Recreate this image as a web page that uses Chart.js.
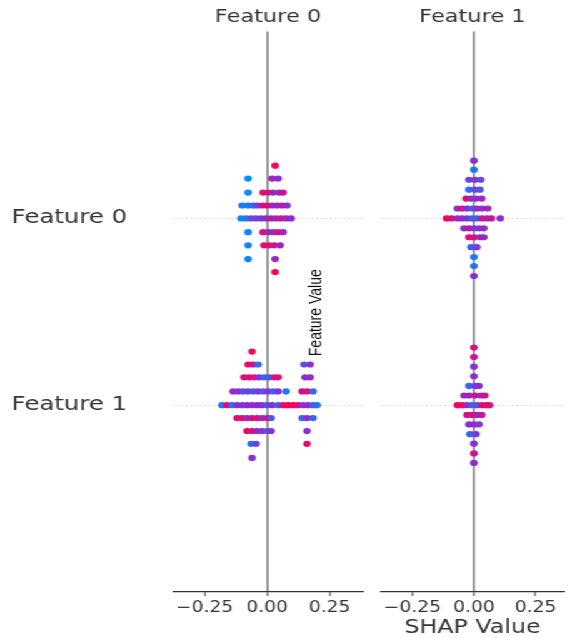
<!DOCTYPE html>
<html>
<head>
<meta charset="utf-8">
<script src="https://cdn.jsdelivr.net/npm/chart.js@4.4.0/dist/chart.umd.min.js"></script>
<style>
  body { margin: 0; background: #fff; overflow: hidden; }
  /* the reference raster is stretched sideways, so draw narrow and widen */
  #stretch { position: absolute; left: 0; top: 0; width: 455px; height: 638px;
             transform: scaleX(1.25); transform-origin: 0 0; }
  #leftChart { position: absolute; left: 0; top: 0; }
  #rightChart { position: absolute; left: 300px; top: 0; }
</style>
</head>
<body>
<div id="stretch">
  <canvas id="leftChart" width="300" height="638"></canvas>
  <canvas id="rightChart" width="155" height="638"></canvas>
</div>
<script>
// rows on the y axis (y = 0, 1) and the panel titles
const rowLabels = ['Feature 1', 'Feature 0'];
const panelTitles = ['Feature 0', 'Feature 1'];
const xTicks = [-0.25, 0, 0.25];
const xTickLabels = ['\u22120.25', '0.00', '0.25'];

// panel "Feature 0", row "Feature 0" (main effect)
const f0f0Shap = [0.032,
  -0.076, 0.020, 0.044,
  -0.076, -0.016, 0.004, 0.024, 0.048, 0.064,
  -0.100, -0.076, -0.056, -0.040, -0.020, 0, 0.020, 0.040, 0.060, 0.080,
  -0.104, -0.084, -0.064, -0.044, -0.024, -0.004, 0.016, 0.036, 0.056, 0.076, 0.096,
  -0.076, -0.016, 0.004, 0.024, 0.044, 0.064,
  -0.076, -0.012, 0.008, 0.028, 0.052,
  -0.076, 0.032,
  0.032];
const f0f0Jitter = [0.282,
  0.213, 0.213, 0.213,
  0.138, 0.138, 0.138, 0.138, 0.138, 0.138,
  0.069, 0.069, 0.069, 0.069, 0.069, 0.069, 0.069, 0.069, 0.069, 0.069,
  0, 0, 0, 0, 0, 0, 0, 0, 0, 0, 0,
  -0.074, -0.074, -0.074, -0.074, -0.074, -0.074,
  -0.144, -0.144, -0.144, -0.144, -0.144,
  -0.218, -0.218,
  -0.287];
const f0f0Value = [1,
  0, 0.6, 0.5,
  0, 0.9, 0.85, 0.6, 0.55, 0.8,
  0.05, 0.1, 0.15, 0.4, 0.8, 0.9, 0.6, 0.55, 0.7, 0.5,
  0.05, 0.1, 0.35, 0.4, 0.45, 0.5, 0.75, 0.6, 0.8, 0.55, 0.5,
  0.05, 0.85, 0.6, 0.55, 0.8, 0.6,
  0.05, 0.9, 0.85, 0.8, 0.6,
  0.05, 0.55,
  1];

// panel "Feature 0", row "Feature 1"
const f0f1Shap = [-0.060,
  -0.076, -0.056, -0.036, 0.148, 0.172,
  -0.092, -0.072, -0.052, -0.032, -0.012, 0.008, 0.028, 0.044, 0.152, 0.172,
  -0.136, -0.116, -0.096, -0.076, -0.056, -0.036, -0.016, 0.004, 0.024, 0.044, 0.076, 0.140, 0.160, 0.184,
  -0.180, -0.160, -0.140, -0.120, -0.100, -0.080, -0.060, -0.040, -0.020, 0, 0.020, 0.044, 0.064, 0.084, 0.104, 0.124, 0.144, 0.164, 0.184, 0.200,
  -0.120, -0.100, -0.080, -0.060, -0.040, -0.020, 0, 0.016, 0.140, 0.160, 0.184,
  -0.080, -0.060, -0.040, -0.020, 0, 0.016, 0.160,
  -0.064, -0.044, 0.160,
  -0.060];
const f0f1Jitter = [0.287,
  0.218, 0.218, 0.218, 0.218, 0.218,
  0.149, 0.149, 0.149, 0.149, 0.149, 0.149, 0.149, 0.149, 0.149, 0.149,
  0.074, 0.074, 0.074, 0.074, 0.074, 0.074, 0.074, 0.074, 0.074, 0.074, 0.074, 0.074, 0.074, 0.074,
  0, 0, 0, 0, 0, 0, 0, 0, 0, 0, 0, 0, 0, 0, 0, 0, 0, 0, 0, 0,
  -0.069, -0.069, -0.069, -0.069, -0.069, -0.069, -0.069, -0.069, -0.069, -0.069, -0.069,
  -0.138, -0.138, -0.138, -0.138, -0.138, -0.138, -0.138,
  -0.207, -0.207, -0.207,
  -0.282];
const f0f1Value = [0.95,
  0.9, 0.8, 0.2, 0.3, 0.5,
  0.8, 0.9, 0.85, 0.5, 0.2, 0.25, 0.8, 0.85, 0.5, 0.55,
  0.55, 0.5, 0.3, 0.4, 0.25, 0.45, 0.3, 0.5, 0.2, 0.5, 0.1, 0.8, 0.85, 0.2,
  0.1, 0.9, 0.15, 0.5, 0.45, 0.5, 0.55, 0.5, 0.5, 0.3, 0.5, 0.2, 0.9, 1, 0.95, 0.9, 0.5, 0.55, 0.2, 0.15,
  0.85, 0.9, 0.6, 0.8, 0.85, 0.6, 0.8, 0.3, 0.2, 0.5, 0.2,
  0.9, 0.85, 0.5, 0.55, 0.3, 0.5, 0.5,
  0.15, 0.4, 0.9,
  0.5];

// panel "Feature 1", row "Feature 0"
const f1f0Shap = [0,
  0,
  -0.020, 0.004, 0.028,
  -0.020, 0.004, 0.024,
  -0.032, -0.012, 0.008, 0.032,
  -0.067, -0.048, -0.028, -0.008, 0.012, 0.032, 0.056,
  -0.111, -0.091, -0.067, -0.048, -0.028, -0.008, 0.012, 0.032, 0.052, 0.071, 0.107,
  -0.040, -0.020, 0, 0.020, 0.040,
  -0.020, 0, 0.024, 0.040,
  -0.012, 0.012,
  0,
  0,
  0];
const f1f0Jitter = [0.309,
  0.261,
  0.207, 0.207, 0.207,
  0.154, 0.154, 0.154,
  0.106, 0.106, 0.106, 0.106,
  0.053, 0.053, 0.053, 0.053, 0.053, 0.053, 0.053,
  0, 0, 0, 0, 0, 0, 0, 0, 0, 0, 0,
  -0.053, -0.053, -0.053, -0.053, -0.053,
  -0.101, -0.101, -0.101, -0.101,
  -0.154, -0.154,
  -0.207,
  -0.255,
  -0.309];
const f1f0Value = [0.5,
  0.1,
  0.4, 0.5, 0.35,
  0.15, 0.4, 0.3,
  0.9, 0.55, 0.5, 0.6,
  0.55, 0.8, 0.5, 0.3, 0.5, 0.55, 0.6,
  0.95, 0.85, 0.6, 0.55, 0.45, 0.25, 0.2, 0.8, 0.65, 0.75, 0.5,
  0.5, 0.75, 0.5, 0.45, 0.55,
  0.85, 0.8, 0.6, 0.55,
  0.25, 0.45,
  0.1,
  0.15,
  0.5];

// panel "Feature 1", row "Feature 1" (main effect)
const f1f1Shap = [0,
  0,
  0,
  0,
  -0.020, 0.004, 0.020,
  -0.040, -0.020, 0.004, 0.028, 0.044,
  -0.067, -0.048, -0.028, -0.008, 0.012, 0.032, 0.052, 0.063,
  -0.028, -0.008, 0.012, 0.032,
  -0.020, 0, 0.020,
  -0.016, 0.008,
  0,
  0,
  0];
const f1f1Jitter = [0.309,
  0.258,
  0.206,
  0.155,
  0.103, 0.103, 0.103,
  0.052, 0.052, 0.052, 0.052, 0.052,
  0, 0, 0, 0, 0, 0, 0, 0,
  -0.052, -0.052, -0.052, -0.052,
  -0.103, -0.103, -0.103,
  -0.155, -0.155,
  -0.206,
  -0.258,
  -0.309];
const f1f1Value = [0.85,
  0.8,
  0.45,
  0.55,
  0.2, 0.45, 0.5,
  0.55, 0.6, 0.75, 0.55, 0.8,
  0.95, 0.9, 0.6, 0.25, 0.3, 0.85, 0.9, 0.85,
  0.8, 0.85, 0.6, 0.75,
  0.5, 0.55, 0.45,
  0.2, 0.45,
  0.5,
  0.8,
  0.5];

// shap red_blue colour map: blue (low) -> purple -> red (high)
const cmapStops = [[0, 139, 251], [138, 45, 215], [255, 0, 82]];
function featureColor(v) {
  const t = v * 2;
  const i = Math.min(Math.floor(t), 1);
  const f = t - i;
  const a = cmapStops[i], b = cmapStops[i + 1];
  const c = a.map((ch, k) => Math.round(ch + (b[k] - ch) * f));
  return 'rgb(' + c.join(',') + ')';
}

function makeDataset(shap, jitter, values, row) {
  return {
    data: shap.map((x, i) => ({ x: x, y: row + jitter[i] })),
    backgroundColor: values.map(featureColor),
    borderWidth: 0,
    pointRadius: 3.1
  };
}

const textColor = '#333333';
const font = 'DejaVu Sans';

// colour bar label that sits between the panels
const featureValueLabel = {
  id: 'featureValueLabel',
  afterDraw(chart) {
    const ctx = chart.ctx;
    const x = chart.scales.x.getPixelForValue(0.2);
    const y = chart.scales.y.getPixelForValue(0.495);
    ctx.save();
    ctx.translate(x, y);
    ctx.rotate(-Math.PI / 2);
    ctx.font = '14px "Liberation Sans"';
    ctx.fillStyle = '#111';
    ctx.textAlign = 'center';
    ctx.textBaseline = 'middle';
    ctx.fillText('Feature Value', 0, 0);
    ctx.restore();
  }
};

function makeConfig(panel, datasets, xMin, xMax, yWidth, padRight, showRowLabels, xTitle) {
  return {
    type: 'scatter',
    data: { datasets: datasets },
    plugins: panel === 0 ? [featureValueLabel] : [],
    options: {
      responsive: false,
      animation: false,
      events: [],
      layout: { padding: { left: 0, right: padRight, top: 0, bottom: 0 } },
      plugins: {
        legend: { display: false },
        tooltip: { enabled: false },
        title: {
          display: true,
          text: panelTitles[panel],
          fullSize: false,
          color: textColor,
          font: { family: font, size: 18, weight: 'normal', lineHeight: 1.2 },
          padding: { top: 7, bottom: 3 }
        }
      },
      scales: {
        x: {
          type: 'linear',
          min: xMin,
          max: xMax,
          afterBuildTicks: function(scale) {
            scale.ticks = xTicks.map(v => ({ value: v }));
          },
          afterFit: function(scale) {
            scale.height = 46;
            scale.paddingLeft = 0;
            scale.paddingRight = 0;
          },
          ticks: {
            color: textColor,
            font: { family: font, size: 15 },
            padding: 3,
            maxRotation: 0,
            callback: (value) => xTickLabels[xTicks.indexOf(value)]
          },
          grid: {
            color: (ctx) => (ctx.tick && ctx.tick.value === 0) ? '#999999' : 'rgba(0,0,0,0)',
            lineWidth: 2,
            drawTicks: true,
            tickLength: 4,
            tickColor: textColor,
            tickWidth: 1
          },
          border: { display: true, color: textColor, width: 1.2 },
          title: {
            display: !!xTitle,
            text: xTitle || '',
            color: textColor,
            font: { family: font, size: 19, lineHeight: 1 },
            padding: { top: 0, bottom: 0 }
          }
        },
        y: {
          type: 'linear',
          min: -1,
          max: 2,
          afterBuildTicks: function(scale) {
            scale.ticks = [{ value: 0 }, { value: 1 }];
          },
          afterFit: function(scale) {
            scale.width = yWidth;
            scale.paddingTop = 0;
            scale.paddingBottom = 0;
          },
          ticks: {
            display: showRowLabels,
            color: textColor,
            font: { family: font, size: 19.5 },
            padding: 36.8,
            callback: (value) => rowLabels[value]
          },
          grid: {
            color: '#d0d0d0',
            lineWidth: 1,
            drawTicks: false
          },
          border: { display: false, dash: [1.2, 2.4] }
        }
      }
    }
  };
}

new Chart(document.getElementById('leftChart'), makeConfig(0, [
  makeDataset(f0f0Shap, f0f0Jitter, f0f0Value, 1),
  makeDataset(f0f1Shap, f0f1Jitter, f0f1Value, 0)
], -0.376, 0.384, 138.4, 9.6, true, null));

new Chart(document.getElementById('rightChart'), makeConfig(1, [
  makeDataset(f1f0Shap, f1f0Jitter, f1f0Value, 1),
  makeDataset(f1f1Shap, f1f1Jitter, f1f1Value, 0)
], -0.377, 0.365, 4.8, 0.6, false, 'SHAP Value'));
</script>
</body>
</html>
